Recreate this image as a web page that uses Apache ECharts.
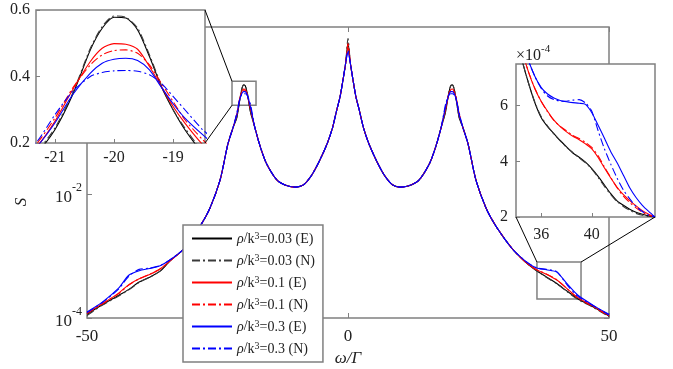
<!DOCTYPE html>
<html>
<head>
<meta charset="utf-8">
<script src="https://cdn.jsdelivr.net/npm/echarts@6/dist/echarts.min.js"></script>
<style>
  html, body { margin: 0; padding: 0; background: #fff; }
  #chart { width: 673px; height: 369px; }
</style>
</head>
<body>
<div id="chart"></div>
<script>
// ---- main plot (log scale) ----
const omegaMain = [
  -50, -47, -44, -42, -40, -38, -36, -34, -31.5, -28.5, -26.5, -24.5, -23, -22,
  -21.3, -20.7, -20.3, -20, -19.7, -19.3, -18.7,
  -17.8, -16.8, -15.6, -13.5, -11.5, -10, -8.5, -7, -5.5, -4, -3, -2.2, -1.5, -0.9, -0.45,
  0,
  0.45, 0.9, 1.5, 2.2, 3, 4, 5.5, 7, 8.5, 10, 11.5, 13.5, 15.6, 16.8, 17.8,
  18.7, 19.3, 19.7, 20, 20.3, 20.7, 21.3,
  22, 23, 24.5, 26.5, 28.5, 31.5, 34, 36, 38, 40, 42, 44, 47, 50
];
const sMainBlackE = [
  1.15e-4, 1.65e-4, 2.3e-4, 2.9e-4, 3.8e-4, 4.55e-4, 5.7e-4, 8.5e-4, 1.3e-3, 2.9e-3, 5.8e-3, 0.017, 0.065, 0.12,
  0.17, 0.345, 0.51, 0.578, 0.567, 0.43, 0.215,
  0.115, 0.058, 0.031, 0.0165, 0.0135, 0.013, 0.0142, 0.02, 0.034, 0.065, 0.115, 0.22, 0.38, 0.75, 1.3,
  2.8,
  1.3, 0.75, 0.38, 0.22, 0.115, 0.065, 0.034, 0.02, 0.0142, 0.013, 0.0135, 0.0165, 0.031, 0.058, 0.115,
  0.215, 0.43, 0.567, 0.578, 0.51, 0.345, 0.17,
  0.12, 0.065, 0.017, 5.8e-3, 2.9e-3, 1.3e-3, 8.0e-4, 5.9e-4, 4.6e-4, 3.6e-4, 2.7e-4, 2.05e-4, 1.5e-4, 1.08e-4
];
const sMainBlackN = [
  1.1e-4, 1.62e-4, 2.25e-4, 2.85e-4, 3.75e-4, 4.55e-4, 5.7e-4, 8.5e-4, 1.3e-3, 2.9e-3, 5.8e-3, 0.017, 0.065, 0.12,
  0.175, 0.35, 0.52, 0.582, 0.57, 0.44, 0.22,
  0.115, 0.058, 0.031, 0.0165, 0.0135, 0.013, 0.0142, 0.02, 0.034, 0.065, 0.115, 0.22, 0.38, 0.75, 1.3,
  3.3,
  1.3, 0.75, 0.38, 0.22, 0.115, 0.065, 0.034, 0.02, 0.0142, 0.013, 0.0135, 0.0165, 0.031, 0.058, 0.115,
  0.22, 0.44, 0.57, 0.582, 0.52, 0.35, 0.175,
  0.12, 0.065, 0.017, 5.8e-3, 2.9e-3, 1.3e-3, 8.0e-4, 5.9e-4, 4.55e-4, 3.55e-4, 2.65e-4, 2.0e-4, 1.48e-4, 1.05e-4
];
const sMainRedE = [
  1.2e-4, 1.72e-4, 2.5e-4, 3.45e-4, 4.3e-4, 5.05e-4, 6.2e-4, 8.5e-4, 1.3e-3, 2.9e-3, 5.8e-3, 0.017, 0.065, 0.12,
  0.19, 0.36, 0.465, 0.499, 0.49, 0.40, 0.24,
  0.115, 0.058, 0.031, 0.0165, 0.0135, 0.013, 0.0142, 0.02, 0.034, 0.065, 0.115, 0.22, 0.38, 0.75, 1.3,
  2.4,
  1.3, 0.75, 0.38, 0.22, 0.115, 0.065, 0.034, 0.02, 0.0142, 0.013, 0.0135, 0.0165, 0.031, 0.058, 0.115,
  0.24, 0.40, 0.49, 0.499, 0.465, 0.36, 0.19,
  0.12, 0.065, 0.017, 5.8e-3, 2.9e-3, 1.3e-3, 8.0e-4, 6.1e-4, 5.1e-4, 4.1e-4, 2.95e-4, 2.15e-4, 1.55e-4, 1.1e-4
];
const sMainRedN = [
  1.18e-4, 1.7e-4, 2.45e-4, 3.4e-4, 4.3e-4, 5.1e-4, 6.2e-4, 8.5e-4, 1.3e-3, 2.9e-3, 5.8e-3, 0.017, 0.065, 0.12,
  0.2, 0.365, 0.45, 0.478, 0.476, 0.41, 0.25,
  0.115, 0.058, 0.031, 0.0165, 0.0135, 0.013, 0.0142, 0.02, 0.034, 0.065, 0.115, 0.22, 0.38, 0.75, 1.3,
  2.7,
  1.3, 0.75, 0.38, 0.22, 0.115, 0.065, 0.034, 0.02, 0.0142, 0.013, 0.0135, 0.0165, 0.031, 0.058, 0.115,
  0.25, 0.41, 0.476, 0.478, 0.45, 0.365, 0.2,
  0.12, 0.065, 0.017, 5.8e-3, 2.9e-3, 1.3e-3, 8.0e-4, 6.1e-4, 5.15e-4, 4.15e-4, 2.95e-4, 2.1e-4, 1.52e-4, 1.08e-4
];
const sMainBlueE = [
  1.25e-4, 1.82e-4, 3.0e-4, 4.9e-4, 5.8e-4, 6.3e-4, 7.0e-4, 8.8e-4, 1.3e-3, 2.9e-3, 5.8e-3, 0.017, 0.065, 0.12,
  0.19, 0.345, 0.425, 0.452, 0.452, 0.395, 0.26,
  0.115, 0.058, 0.031, 0.0165, 0.0135, 0.013, 0.0142, 0.02, 0.034, 0.065, 0.115, 0.22, 0.38, 0.75, 1.3,
  1.95,
  1.3, 0.75, 0.38, 0.22, 0.115, 0.065, 0.034, 0.02, 0.0142, 0.013, 0.0135, 0.0165, 0.031, 0.058, 0.115,
  0.26, 0.395, 0.452, 0.452, 0.425, 0.345, 0.19,
  0.12, 0.065, 0.017, 5.8e-3, 2.9e-3, 1.3e-3, 8.3e-4, 6.5e-4, 6.0e-4, 5.5e-4, 3.55e-4, 2.35e-4, 1.6e-4, 1.15e-4
];
const sMainBlueN = [
  1.22e-4, 1.8e-4, 2.9e-4, 4.7e-4, 6.1e-4, 6.4e-4, 7.0e-4, 8.8e-4, 1.3e-3, 2.9e-3, 5.8e-3, 0.017, 0.065, 0.12,
  0.205, 0.355, 0.406, 0.417, 0.417, 0.395, 0.285,
  0.115, 0.058, 0.031, 0.0165, 0.0135, 0.013, 0.0142, 0.02, 0.034, 0.065, 0.115, 0.22, 0.38, 0.75, 1.3,
  2.1,
  1.3, 0.75, 0.38, 0.22, 0.115, 0.065, 0.034, 0.02, 0.0142, 0.013, 0.0135, 0.0165, 0.031, 0.058, 0.115,
  0.285, 0.395, 0.417, 0.417, 0.406, 0.355, 0.205,
  0.12, 0.065, 0.017, 5.8e-3, 2.9e-3, 1.3e-3, 8.3e-4, 6.5e-4, 6.1e-4, 5.6e-4, 3.4e-4, 2.25e-4, 1.58e-4, 1.12e-4
];

// ---- left inset, peak near -20 (linear) ----
const omegaZoomL = [-21.5, -21.3, -21.0, -20.7, -20.4, -20.2, -20.0, -19.8, -19.6, -19.4, -19.2, -19.0, -18.8, -18.5, -18.3];
const sZoomLBlackE = [0.14, 0.17, 0.24, 0.345, 0.48, 0.545, 0.578, 0.576, 0.54, 0.46, 0.37, 0.30, 0.24, 0.17, 0.14];
const sZoomLBlackN = [0.145, 0.175, 0.245, 0.35, 0.485, 0.55, 0.582, 0.578, 0.545, 0.465, 0.375, 0.30, 0.245, 0.175, 0.145];
const sZoomLRedE = [0.16, 0.19, 0.265, 0.36, 0.445, 0.485, 0.499, 0.497, 0.482, 0.43, 0.37, 0.31, 0.26, 0.195, 0.16];
const sZoomLRedN = [0.17, 0.20, 0.275, 0.365, 0.435, 0.465, 0.478, 0.48, 0.47, 0.435, 0.38, 0.325, 0.27, 0.21, 0.175];
const sZoomLBlueE = [0.16, 0.19, 0.26, 0.345, 0.41, 0.44, 0.452, 0.455, 0.448, 0.42, 0.368, 0.318, 0.275, 0.225, 0.195];
const sZoomLBlueN = [0.175, 0.205, 0.285, 0.355, 0.40, 0.412, 0.417, 0.418, 0.416, 0.405, 0.38, 0.34, 0.30, 0.24, 0.21];

// ---- right inset, shoulder near 40 (linear, units of 1e-4) ----
const omegaZoomR = [34, 34.5, 35, 35.5, 36, 36.5, 37, 37.5, 38, 38.5, 39, 39.5, 40, 40.5, 41, 41.5, 42, 42.5, 43, 43.5, 44, 44.5, 45];
const sZoomRBlackE = [8.6, 7.6, 6.8, 6.1, 5.57, 5.25, 5.0, 4.75, 4.52, 4.3, 4.15, 3.97, 3.74, 3.46, 3.15, 2.84, 2.58, 2.42, 2.28, 2.17, 2.1, 2.04, 2.0];
const sZoomRBlackN = [8.6, 7.6, 6.8, 6.12, 5.6, 5.27, 4.98, 4.74, 4.5, 4.32, 4.12, 3.95, 3.72, 3.42, 3.1, 2.8, 2.55, 2.38, 2.24, 2.13, 2.06, 2.02, 2.0];
const sZoomRRedE = [8.9, 7.95, 7.2, 6.6, 6.15, 5.8, 5.48, 5.25, 5.06, 4.9, 4.78, 4.63, 4.45, 4.14, 3.76, 3.4, 3.07, 2.8, 2.59, 2.4, 2.23, 2.1, 2.0];
const sZoomRRedN = [8.9, 7.95, 7.2, 6.62, 6.15, 5.78, 5.47, 5.26, 5.1, 4.93, 4.82, 4.68, 4.5, 4.2, 3.8, 3.42, 3.05, 2.75, 2.52, 2.33, 2.17, 2.06, 2.0];
const sZoomRBlueE = [9.0, 8.2, 7.6, 7.05, 6.65, 6.42, 6.28, 6.19, 6.14, 6.11, 6.09, 6.05, 5.75, 5.3, 4.83, 4.35, 3.95, 3.5, 3.05, 2.7, 2.42, 2.2, 2.0];
const sZoomRBlueN = [9.0, 8.3, 7.6, 7.05, 6.62, 6.35, 6.22, 6.17, 6.16, 6.2, 6.22, 6.1, 5.8, 5.1, 4.45, 3.9, 3.4, 2.97, 2.65, 2.38, 2.2, 2.07, 2.0];

const seriesNames = ['0.03 (E)', '0.03 (N)', '0.1 (E)', '0.1 (N)', '0.3 (E)', '0.3 (N)'];
const seriesColors = ['#000000', '#3a3a3a', '#ff0000', '#ff0000', '#0000ff', '#0000ff'];

const mainTicksX = [-50, 0, 50];
const mainTicksY = [1e-4, 1e-2];
const zoomLTicksX = [-21, -20, -19];
const zoomLTicksY = [0.2, 0.4, 0.6];
const zoomRTicksX = [36, 40];
const zoomRTicksY = [2, 4, 6];

// zoom boxes drawn on the main plot [x0, y0, x1, y1]
const boxL = [-22.22, 0.665, -17.62, 0.272];
const boxR = [36.2, 8.0e-4, 44.64, 2.02e-4];

const mainData = [sMainBlackE, sMainBlackN, sMainRedE, sMainRedN, sMainBlueE, sMainBlueN];
const zoomLData = [sZoomLBlackE, sZoomLBlackN, sZoomLRedE, sZoomLRedN, sZoomLBlueE, sZoomLBlueN];
const zoomRData = [sZoomRBlackE, sZoomRBlackN, sZoomRRedE, sZoomRRedN, sZoomRBlueE, sZoomRBlueN];

const FONT = 'Liberation Serif';
const AXIS = '#808080';
const TXT = '#222';
const dashDot = [8, 3, 2, 3];

function pairs(xs, ys) {
  return xs.map((x, i) => [x, ys[i]]);
}

let chart = echarts.init(document.getElementById('chart'));

let series = [];
seriesNames.forEach(function(name, i) {
  let base = {
    name: name,
    type: 'line',
    symbol: 'none',
    showSymbol: false,
    smooth: 0.25,
    animation: false,
    itemStyle: { color: seriesColors[i] },
    lineStyle: { color: seriesColors[i], width: 1.1, type: i % 2 ? dashDot : 'solid' }
  };
  let main = Object.assign({}, base, {
    xAxisIndex: 0, yAxisIndex: 0, z: 2,
    data: pairs(omegaMain, mainData[i])
  });
  if (i === 0) {
    main.markArea = {
      silent: true,
      itemStyle: { color: 'rgba(0,0,0,0)', borderColor: AXIS, borderWidth: 1.5 },
      data: [
        [{ xAxis: boxL[0], yAxis: boxL[1] }, { xAxis: boxL[2], yAxis: boxL[3] }],
        [{ xAxis: boxR[0], yAxis: boxR[1] }, { xAxis: boxR[2], yAxis: boxR[3] }]
      ]
    };
  }
  series.push(main);
  series.push(Object.assign({}, base, {
    xAxisIndex: 2, yAxisIndex: 2, z: 7, clip: true,
    data: pairs(omegaZoomL, zoomLData[i])
  }));
  series.push(Object.assign({}, base, {
    xAxisIndex: 3, yAxisIndex: 3, z: 7, clip: true,
    data: pairs(omegaZoomR, zoomRData[i])
  }));
});

function axisCommon(extra) {
  return Object.assign({
    axisLine: { show: false, onZero: false },
    splitLine: { show: false },
    axisTick: { inside: true, length: 5, lineStyle: { color: AXIS, width: 1 } },
    axisLabel: { fontFamily: FONT, fontSize: 17, color: TXT }
  }, extra);
}

let powLabel = function(v) {
  return '{b|10}{s|' + Math.round(Math.log10(v)) + '}';
};
let powRich = {
  b: { fontFamily: FONT, fontSize: 17, color: TXT, lineHeight: 24, verticalAlign: 'bottom' },
  s: { fontFamily: FONT, fontSize: 12, color: TXT, lineHeight: 12, verticalAlign: 'top' }
};

chart.setOption({
  animation: false,
  backgroundColor: '#fff',
  grid: [
    { left: 87, top: 27, width: 522, height: 291, show: true, backgroundColor: '#fff',
      borderColor: AXIS, borderWidth: 1.5, outerBoundsMode: 'none', z: 0 },
    { left: 36, top: 10, width: 169, height: 133, show: true, backgroundColor: '#fff',
      borderColor: AXIS, borderWidth: 1.5, outerBoundsMode: 'none', z: 5 },
    { left: 516, top: 64, width: 139, height: 153, show: true, backgroundColor: '#fff',
      borderColor: AXIS, borderWidth: 1.5, outerBoundsMode: 'none', z: 5 }
  ],
  xAxis: [
    axisCommon({
      gridIndex: 0, type: 'value', min: -50, max: 50,
      name: 'ω/Γ', nameLocation: 'middle', nameGap: 30,
      nameTextStyle: { fontFamily: FONT, fontSize: 17, fontStyle: 'italic', color: TXT },
      axisTick: { inside: true, length: 5, customValues: mainTicksX, lineStyle: { color: AXIS } },
      axisLabel: { fontFamily: FONT, fontSize: 17, color: TXT, margin: 10, customValues: mainTicksX }
    }),
    axisCommon({
      gridIndex: 0, type: 'value', min: -50, max: 50, position: 'top',
      axisTick: { inside: true, length: 5, customValues: mainTicksX, lineStyle: { color: AXIS } },
      axisLabel: { show: false }
    }),
    axisCommon({
      gridIndex: 1, type: 'value', min: -21.32, max: -18.46, z: 6,
      axisTick: { inside: true, length: 4, customValues: zoomLTicksX, lineStyle: { color: AXIS } },
      axisLabel: { fontFamily: FONT, fontSize: 16, color: TXT, margin: 7, customValues: zoomLTicksX }
    }),
    axisCommon({
      gridIndex: 2, type: 'value', min: 34, max: 45, z: 6,
      axisTick: { inside: true, length: 4, customValues: zoomRTicksX, lineStyle: { color: AXIS } },
      axisLabel: { fontFamily: FONT, fontSize: 16, color: TXT, margin: 10, customValues: zoomRTicksX }
    })
  ],
  yAxis: [
    axisCommon({
      gridIndex: 0, type: 'log', logBase: 10, min: 1e-4, max: 5,
      axisTick: { inside: true, length: 5, customValues: mainTicksY, lineStyle: { color: AXIS } },
      axisLabel: { margin: 5, customValues: mainTicksY, formatter: powLabel, rich: powRich }
    }),
    axisCommon({
      gridIndex: 0, type: 'log', logBase: 10, min: 1e-4, max: 5, position: 'right',
      axisTick: { inside: true, length: 5, customValues: mainTicksY, lineStyle: { color: AXIS } },
      axisLabel: { show: false }
    }),
    axisCommon({
      gridIndex: 1, type: 'value', min: 0.2, max: 0.6, z: 6,
      axisTick: { inside: true, length: 4, customValues: zoomLTicksY, lineStyle: { color: AXIS } },
      axisLabel: { fontFamily: FONT, fontSize: 16, color: TXT, margin: 6, customValues: zoomLTicksY,
        formatter: function(v) { return v.toFixed(1); } }
    }),
    axisCommon({
      gridIndex: 2, type: 'value', min: 2, max: 7.5, z: 6,
      name: '{x|×}{b|10}{s|-4}', nameLocation: 'end', nameGap: 0,
      nameTextStyle: { fontFamily: FONT, fontSize: 16, color: TXT, align: 'left',
        rich: { x: { fontFamily: FONT, fontSize: 16, color: TXT, lineHeight: 20, verticalAlign: 'bottom' },
                b: { fontFamily: FONT, fontSize: 16, color: TXT, lineHeight: 20, verticalAlign: 'bottom' },
                s: { fontFamily: FONT, fontSize: 11, color: TXT, lineHeight: 11, verticalAlign: 'top' } } },
      axisTick: { inside: true, length: 4, customValues: zoomRTicksY, lineStyle: { color: AXIS } },
      axisLabel: { fontFamily: FONT, fontSize: 16, color: TXT, margin: 8, customValues: zoomRTicksY }
    })
  ],
  legend: {
    data: seriesNames,
    orient: 'vertical',
    left: 183,
    top: 225,
    height: 130,
    padding: [6, 8, 6, 8],
    itemGap: 7,
    itemWidth: 40,
    itemHeight: 14,
    backgroundColor: '#fff',
    borderColor: AXIS,
    borderWidth: 1.5,
    z: 4,
    itemStyle: { opacity: 0 },
    formatter: function(name) {
      return '{it|ρ}/{n|k}{sup|3}{n|=' + name + '}';
    },
    textStyle: {
      fontFamily: FONT, fontSize: 14, color: TXT,
      rich: {
        it: { fontFamily: FONT, fontSize: 14, fontStyle: 'italic', color: TXT, lineHeight: 15, verticalAlign: 'bottom' },
        n: { fontFamily: FONT, fontSize: 14, color: TXT, lineHeight: 15, verticalAlign: 'bottom' },
        sup: { fontFamily: FONT, fontSize: 10, color: TXT, lineHeight: 8, verticalAlign: 'top' }
      }
    }
  },
  series: series
});

// connector lines between zoom boxes and insets
let toMain = pt => chart.convertToPixel({ xAxisIndex: 0, yAxisIndex: 0 }, pt);
let toL = pt => chart.convertToPixel({ xAxisIndex: 2, yAxisIndex: 2 }, pt);
let toR = pt => chart.convertToPixel({ xAxisIndex: 3, yAxisIndex: 3 }, pt);
function seg(a, b) {
  return { type: 'line', z: 8, silent: true,
    shape: { x1: a[0], y1: a[1], x2: b[0], y2: b[1] },
    style: { stroke: '#000', lineWidth: 1 } };
}
chart.setOption({
  graphic: [
    seg(toL([-18.46, 0.6]), toMain([boxL[0], boxL[1]])),
    seg(toL([-18.46, 0.2]), toMain([boxL[0], boxL[3]])),
    seg(toR([34, 2]), toMain([boxR[0], boxR[1]])),
    seg(toR([45, 2]), toMain([boxR[2], boxR[1]])),
    { type: 'text', x: 22, y: 202, rotation: Math.PI / 2, z: 8,
      style: { text: 'S', font: 'italic 17px "Liberation Serif"', fill: TXT,
        textAlign: 'center', textVerticalAlign: 'middle' } }
  ]
});
</script>
</body>
</html>
